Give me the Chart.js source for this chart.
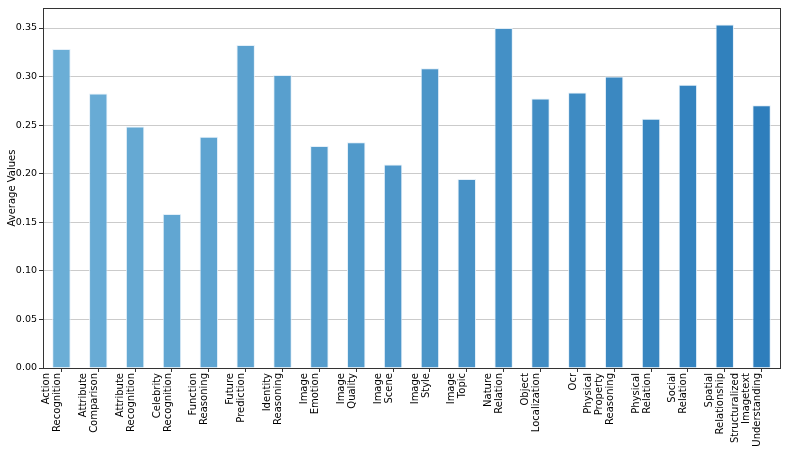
<!DOCTYPE html>
<html>
<head>
<meta charset="utf-8">
<script src="https://cdn.jsdelivr.net/npm/chart.js@4.4.0/dist/chart.umd.min.js"></script>
<style>
  html, body { margin: 0; padding: 0; background: #fff; }
  #wrap { width: 789px; height: 451px; }
</style>
</head>
<body>
<div id="wrap"><canvas id="mycanvas" width="789" height="451"></canvas></div>
<script>
// categories (one entry per line of the label)
let categories = [
	["Action", "Recognition"],
	["Attribute", "Comparison"],
	["Attribute", "Recognition"],
	["Celebrity", "Recognition"],
	["Function", "Reasoning"],
	["Future", "Prediction"],
	["Identity", "Reasoning"],
	["Image", "Emotion"],
	["Image", "Quality"],
	["Image", "Scene"],
	["Image", "Style"],
	["Image", "Topic"],
	["Nature", "Relation"],
	["Object", "Localization"],
	["Ocr"],
	["Physical", "Property", "Reasoning"],
	["Physical", "Relation"],
	["Social", "Relation"],
	["Spatial", "Relationship"],
	["Structuralized", "Imagetext", "Understanding"]
];
let averageValues = [
	0.3285, 0.2825, 0.2485, 0.1585, 0.238, 0.3325, 0.3015, 0.2285, 0.2325, 0.2095,
	0.3085, 0.1945, 0.3500, 0.2775, 0.2835, 0.300, 0.2565, 0.2915, 0.3535, 0.2705
];
let yTickValues = [0, 0.05, 0.10, 0.15, 0.20, 0.25, 0.30, 0.35];
let yMax = 0.3706;

// pad labels to 3 lines so the last line always sits beside the tick
let labels = categories.map(function (c) {
	let l = c.slice();
	while (l.length < 3) l.unshift("");
	return l;
});

// light to darker blue across the bars
let c0 = [107, 174, 214], c1 = [46, 126, 188];
let barColors = averageValues.map(function (v, i) {
	let t = i / (averageValues.length - 1);
	let c = c0.map(function (a, k) { return Math.round(a + (c1[k] - a) * t); });
	return 'rgb(' + c.join(',') + ')';
});

Chart.defaults.font.family = "'DejaVu Sans', sans-serif";
Chart.defaults.font.size = 10;
Chart.defaults.color = '#000';

// frame round the plot area
let framePlugin = {
	id: 'frame',
	afterDraw: function (chart) {
		let a = chart.chartArea, c = chart.ctx;
		c.save();
		c.strokeStyle = '#333';
		c.lineWidth = 1;
		c.strokeRect(Math.round(a.left) + 0.5, Math.round(a.top) + 0.5, Math.round(a.right - a.left), Math.round(a.bottom - a.top));
		c.restore();
	}
};

var ctx = document.getElementById("mycanvas").getContext('2d');
var myChart = new Chart(ctx, {
	type: 'bar',
	data: {
		labels: labels,
		datasets: [{
			label: 'Average Values',
			data: averageValues,
			backgroundColor: barColors,
			borderColor: 'rgba(225,238,248,0.9)',
			borderWidth: 1,
			barPercentage: 0.5,
			categoryPercentage: 1.0
		}]
	},
	plugins: [framePlugin],
	options: {
		responsive: false,
		animation: false,
		layout: { padding: { top: 8, right: 9, left: 0, bottom: 0 } },
		plugins: {
			legend: { display: false },
			tooltip: { enabled: false }
		},
		scales: {
			x: {
				grid: { display: true, offset: false, drawOnChartArea: false, tickLength: 4, tickColor: '#333' },
				border: { display: true, color: '#333' },
				ticks: {
					autoSkip: false,
					minRotation: 90,
					maxRotation: 90,
					padding: 1,
					labelOffset: -26,
					font: { size: 10, lineHeight: 1.1 },
					color: '#000'
				},
				afterFit: function (s) {
					s.height = 83;
					s.paddingLeft = 0;
					s.paddingRight = 0;
				}
			},
			y: {
				min: 0,
				max: yMax,
				z: 1,
				grid: { color: 'rgba(140,140,140,0.45)', tickLength: 4, tickColor: '#333' },
				border: { display: true, color: '#333' },
				ticks: {
					padding: 2,
					includeBounds: false,
					font: { size: 9.5 },
					callback: function (v) { return v.toFixed(2); }
				},
				afterBuildTicks: function (s) {
					s.ticks = yTickValues.map(function (v) { return { value: v }; });
				},
				title: {
					display: true,
					text: 'Average Values',
					font: { size: 10 },
					padding: { top: 6, bottom: 0 }
				},
				afterFit: function (s) { s.width = 43; }
			}
		}
	}
});
</script>
</body>
</html>
